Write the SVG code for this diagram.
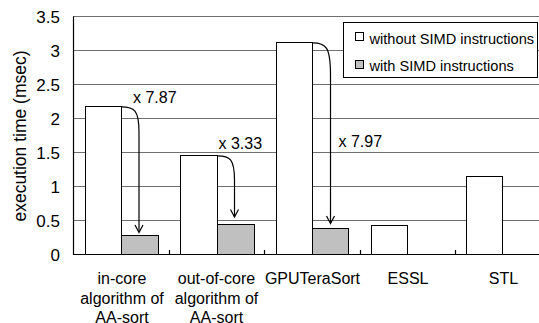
<svg xmlns="http://www.w3.org/2000/svg" width="539" height="323" viewBox="0 0 539 323">
<style>
text{font-family:"Liberation Sans",Arial,sans-serif;font-size:16px;fill:#000}
.grid{stroke:#707070;stroke-width:1;fill:none}
.axis{stroke:#000;stroke-width:1.2;fill:none}
.bw{fill:#fff;stroke:#000;stroke-width:1}
.bg{fill:#c0c0c0;stroke:#000;stroke-width:1}
.arr{fill:none;stroke:#000;stroke-width:1.2}
.yl{text-anchor:end;font-size:17px}
.xl{text-anchor:middle}
.lg{font-size:14.6px}
</style>
<rect width="539" height="323" fill="#fff"/>
<g id="grid">
<path class="grid" d="M73 16.5H539M73 50.5H539M73 84.5H539M73 118.5H539M73 152.5H539M73 186.5H539M73 220.5H539"/>
</g>
<g id="y-axis">
<path class="axis" d="M73.5 16.5V255"/>
<text class="yl" x="60" y="22.5">3.5</text>
<text class="yl" x="60" y="56.5">3</text>
<text class="yl" x="60" y="90.5">2.5</text>
<text class="yl" x="60" y="124.5">2</text>
<text class="yl" x="60" y="158.5">1.5</text>
<text class="yl" x="60" y="192.5">1</text>
<text class="yl" x="60" y="226.5">0.5</text>
<text class="yl" x="60" y="260.5">0</text>
<text class="xl" transform="translate(26,136) rotate(-90)" style="font-size:17.5px">execution time (msec)</text>
</g>
<g id="bar-incore">
<rect class="bw" x="85.5" y="106.5" width="36" height="148"/>
<rect class="bg" x="121.5" y="235.5" width="37" height="19"/>
</g>
<g id="bar-outofcore">
<rect class="bw" x="180.5" y="155.5" width="37" height="99"/>
<rect class="bg" x="217.5" y="224.5" width="37" height="30"/>
</g>
<g id="bar-gputerasort">
<rect class="bw" x="276.5" y="42.5" width="36" height="212"/>
<rect class="bg" x="312.5" y="228.5" width="36" height="26"/>
</g>
<g id="bar-essl">
<rect class="bw" x="371.5" y="225.5" width="36" height="29"/>
</g>
<g id="bar-stl">
<rect class="bw" x="466.5" y="176.5" width="36" height="78"/>
</g>
<g id="x-axis">
<path class="axis" d="M73 254.5H539"/>
<path class="axis" d="M169.5 254.5V250M264.5 254.5V250M360.5 254.5V250M455.5 254.5V250"/>
<text class="xl" x="122" y="284">in-core</text>
<text class="xl" x="122" y="303.5">algorithm of</text>
<text class="xl" x="122" y="323">AA-sort</text>
<text class="xl" x="216.5" y="284">out-of-core</text>
<text class="xl" x="216.5" y="303.5">algorithm of</text>
<text class="xl" x="216.5" y="323">AA-sort</text>
<text class="xl" x="312.5" y="284">GPUTeraSort</text>
<text class="xl" x="408" y="284">ESSL</text>
<text class="xl" x="503.5" y="284">STL</text>
</g>
<g id="connectors">
<path class="arr" d="M121.5 106.8C134 106.8 139 110 139 132V232"/>
<path class="arr" d="M135 225L139 232.5L143 225"/>
<path class="arr" d="M217.5 155.8C230 155.8 234.5 159 234.5 180V216.5"/>
<path class="arr" d="M230.5 209.5L234.5 217L238.5 209.5"/>
<path class="arr" d="M312.5 42.8C326 42.8 330.5 47 330.5 75V223"/>
<path class="arr" d="M326.5 216L330.5 223.5L334.5 216"/>
<text x="133" y="102.5">x 7.87</text>
<text x="218.5" y="148.5">x 3.33</text>
<text x="338.5" y="147">x 7.97</text>
</g>
<g id="legend">
<rect x="343.5" y="22.5" width="194" height="55" fill="#fff" stroke="#000" stroke-width="1"/>
<rect class="bw" x="355.5" y="32.5" width="8" height="8"/>
<text class="lg" x="369.5" y="43.5">without SIMD instructions</text>
<rect class="bg" x="355.5" y="60.5" width="8" height="8"/>
<text class="lg" x="369.5" y="70.5">with SIMD instructions</text>
</g>
</svg>
